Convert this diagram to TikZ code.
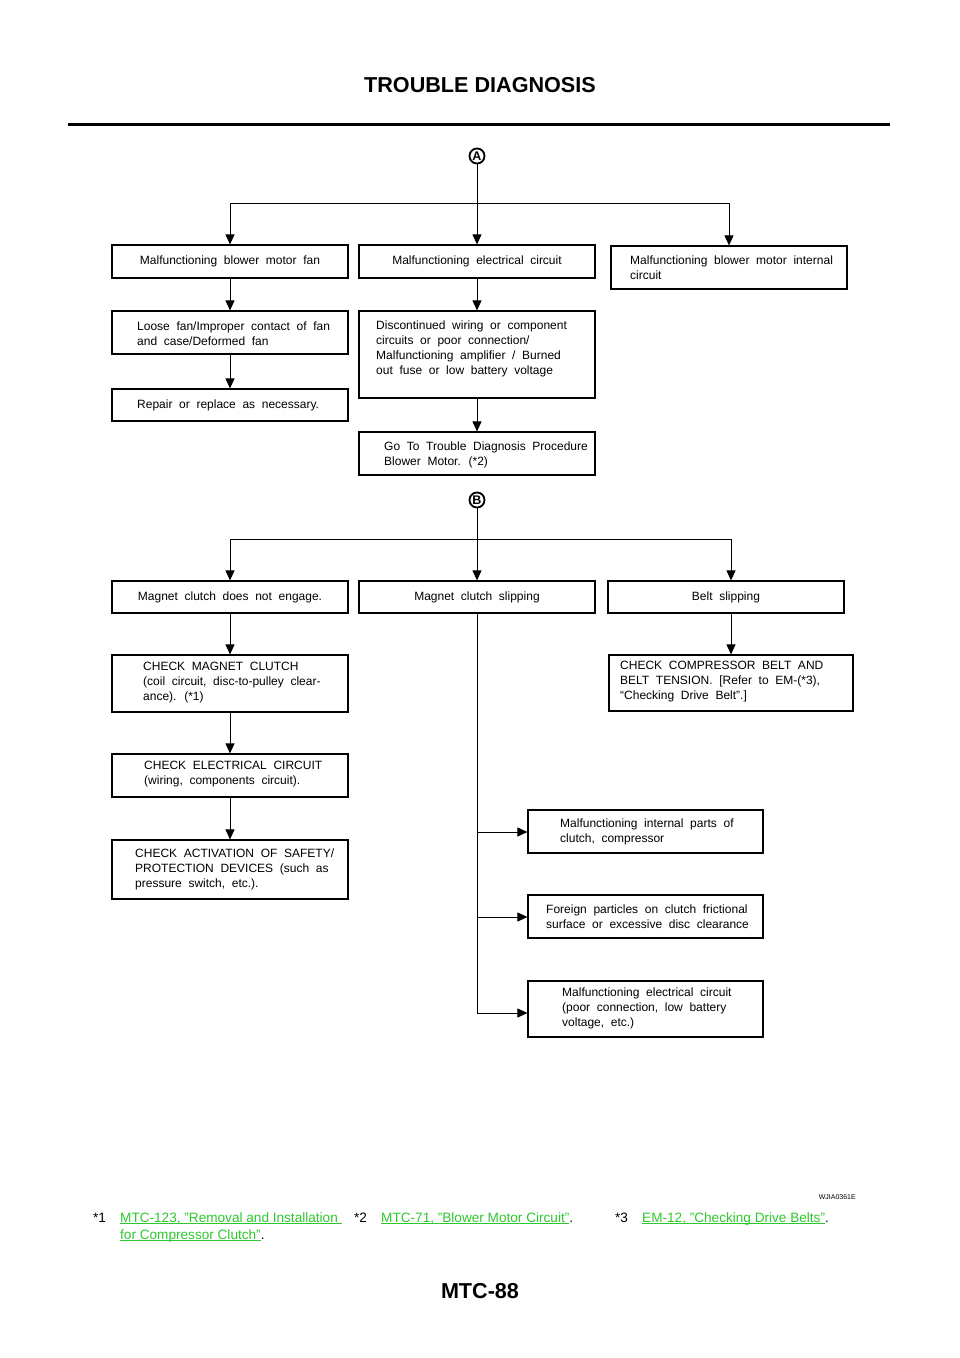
\documentclass[tikz,border=0pt]{standalone}
\usepackage{fontspec}
\setmainfont{Liberation Sans}
\newfontfamily\boxfont[WordSpace=2]{Liberation Sans}
\usetikzlibrary{arrows.meta}
\definecolor{linkgreen}{RGB}{45,200,45}
\newcommand\mylink[1]{\setbox0\hbox{#1}\rlap{\rule[-2.2pt]{\wd0}{0.9pt}}\box0}
\begin{document}
\begin{tikzpicture}[x=1pt,y=-1pt,
 box/.style={draw, line width=1.2pt, inner sep=0pt, minimum width=236pt, align=center, font=\boxfont\fontsize{12}{15}\selectfont},
 txt/.style={anchor=west, inner sep=0pt, align=left, font=\boxfont\fontsize{12}{15}\selectfont},
 arr/.style={line width=1pt, -{Triangle[width=9pt,length=10pt]}},
 conn/.style={line width=1pt},
 circ/.style={circle, draw, line width=1.8pt, inner sep=0pt, minimum size=15pt, font=\bfseries\fontsize{12.5}{12.5}\selectfont},
 fn/.style={anchor=base west, inner sep=0pt, font=\fontsize{13.6}{17}\selectfont},
 big/.style={inner sep=0pt, font=\bfseries\fontsize{21.6}{24}\selectfont}]
\path[use as bounding box] (0,0) rectangle (960,1358);

% header
\node[big] (title) at (480,85) {TROUBLE DIAGNOSIS};
\draw[line width=3pt] (68,124) -- (890,124);

% ---- part A ----
\node[circ] (A) at (477,156) {A};
\coordinate (jA) at (477,203);
\node[box, minimum height=33pt] (b1) at (230,261.5) {Malfunctioning blower motor fan};
\node[box, minimum height=33pt] (b2) at (477,261.5) {Malfunctioning electrical circuit};
\node[box, minimum height=43pt] (b3) at (729,267.5) {};
\node[txt] (t3) at (630,268) {Malfunctioning blower motor internal\\circuit};
\node[box, minimum height=43pt] (b4) at (230,332.5) {};
\node[txt] (t4) at (137,333.5) {Loose fan/Improper contact of fan\\and case/Deformed fan};
\node[box, minimum height=87pt] (b5) at (477,354.5) {};
\node[txt] (t5) at (376,349) {Discontinued wiring or component\\circuits or poor connection/\\Malfunctioning amplifier / Burned\\out fuse or low battery voltage};
\node[box, minimum height=32pt] (b6) at (230,405) {};
\node[txt] (t6) at (137,405) {Repair or replace as necessary.};
\node[box, minimum height=43pt] (b7) at (477,453.5) {};
\node[txt] (t7) at (384,454.5) {Go To Trouble Diagnosis Procedure\\Blower Motor. (*2)};

\draw[arr] (A) -- (b2);
\draw[arr] (jA) -| (b1);
\draw[arr] (jA) -| (b3);
\draw[arr] (b1) -- (b4);
\draw[arr] (b4) -- (b6);
\draw[arr] (b2) -- (b5);
\draw[arr] (b5) -- (b7);

% ---- part B ----
\node[circ] (B) at (477,500) {B};
\coordinate (jB) at (477,539);
\node[box, minimum height=32pt] (c1) at (230,597) {Magnet clutch does not engage.};
\node[box, minimum height=32pt] (c2) at (477,597) {Magnet clutch slipping};
\node[box, minimum height=32pt] (c3) at (726,597) {Belt slipping};
\node[box, minimum height=57pt] (c4) at (230,683.5) {};
\node[txt] (tc4) at (143,683) {CHECK MAGNET CLUTCH\\(coil circuit, disc-to-pulley clear-\\ance). (*1)};
\node[box, minimum height=56pt, minimum width=244pt] (c5) at (731,683) {};
\node[txt] (tc5) at (620,682) {CHECK COMPRESSOR BELT AND\\BELT TENSION. [Refer to EM-(*3),\\“Checking Drive Belt”.]};
\node[box, minimum height=43pt] (c6) at (230,775.5) {};
\node[txt] (tc6) at (144,774.5) {CHECK ELECTRICAL CIRCUIT\\(wiring, components circuit).};
\node[box, minimum height=59pt] (c7) at (230,869.5) {};
\node[txt] (tc7) at (135,869) {CHECK ACTIVATION OF SAFETY/\\PROTECTION DEVICES (such as\\pressure switch, etc.).};
\node[box, minimum height=43pt, minimum width=235pt] (d1) at (645.5,831.5) {};
\node[txt] (td1) at (560,831.5) {Malfunctioning internal parts of\\clutch, compressor};
\node[box, minimum height=43pt, minimum width=235pt] (d2) at (645.5,916.5) {};
\node[txt] (td2) at (546,916.5) {Foreign particles on clutch frictional\\surface or excessive disc clearance};
\node[box, minimum height=56pt, minimum width=235pt] (d3) at (645.5,1009) {};
\node[txt] (td3) at (562,1008) {Malfunctioning electrical circuit\\(poor connection, low battery\\voltage, etc.)};

\draw[arr] (B) -- (c2);
\draw[arr] (jB) -| (c1);
\draw[arr] (jB) -| (c3.north -| c5.north);
\draw[arr] (c3.south -| c5.north) -- (c5.north);
\draw[arr] (c1) -- (c4);
\draw[arr] (c4) -- (c6);
\draw[arr] (c6) -- (c7);
\coordinate (k1) at (477,832);
\coordinate (k2) at (477,917);
\coordinate (k3) at (477,1013);
\draw[conn] (c2.south) -- (k3);
\draw[arr] (k1) -- (k1 -| d1.west);
\draw[arr] (k2) -- (k2 -| d2.west);
\draw[arr] (k3) -- (k3 -| d3.west);

% ---- footer ----
\node[anchor=east, inner sep=0pt, font=\fontsize{7}{8}\selectfont] (code) at (856,1197) {WJIA0361E};
\node[fn] (f1) at (93,1222) {*1};
\node[fn] (f1l) at (120,1222) {\color{linkgreen}\mylink{MTC-123, "Removal and Installation }};
\node[fn] (f1m) at (120,1239) {{\color{linkgreen}\mylink{for Compressor Clutch"}}.};
\node[fn] (f2) at (354,1222) {*2};
\node[fn] (f2l) at (381,1222) {{\color{linkgreen}\mylink{MTC-71, "Blower Motor Circuit"}}.};
\node[fn] (f3) at (615,1222) {*3};
\node[fn] (f3l) at (642,1222) {{\color{linkgreen}\mylink{EM-12, "Checking Drive Belts"}}.};
\node[big] (page) at (480,1291) {MTC-88};
\end{tikzpicture}
\end{document}
